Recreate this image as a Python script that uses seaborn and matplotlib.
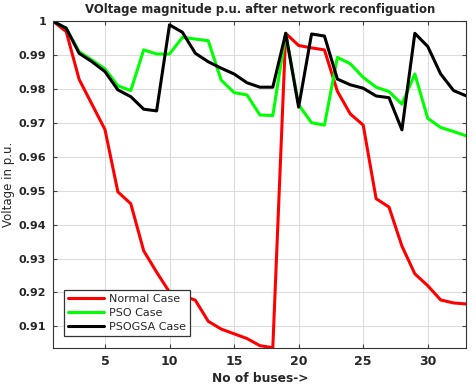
import numpy as np
import pandas as pd
import matplotlib
matplotlib.use("Agg")
import matplotlib.pyplot as plt
import seaborn as sns

# Bus voltages (p.u.) for the 33-bus system
buses = list(range(1, 34))
normal_case = [1.0000, 0.9970, 0.9829, 0.9755, 0.9681, 0.9497, 0.9462, 0.9323,
               0.9260, 0.9201, 0.9192, 0.9177, 0.9115, 0.9092, 0.9078, 0.9064,
               0.9043, 0.9037, 0.9965, 0.9929, 0.9922, 0.9916, 0.9794, 0.9727,
               0.9694, 0.9477, 0.9452, 0.9337, 0.9255, 0.9220, 0.9178, 0.9169,
               0.9166]
pso_case = [1.0000, 0.9980, 0.9911, 0.9886, 0.9860, 0.9810, 0.9796, 0.9916,
            0.9904, 0.9904, 0.9953, 0.9948, 0.9943, 0.9827, 0.9790, 0.9783,
            0.9724, 0.9722, 0.9965, 0.9754, 0.9701, 0.9694, 0.9894, 0.9875,
            0.9835, 0.9806, 0.9793, 0.9756, 0.9845, 0.9714, 0.9687, 0.9675,
            0.9662]
psogsa_case = [1.0000, 0.9980, 0.9906, 0.9881, 0.9852, 0.9798, 0.9778, 0.9741,
               0.9736, 0.9990, 0.9968, 0.9906, 0.9881, 0.9862, 0.9845, 0.9819,
               0.9806, 0.9806, 0.9965, 0.9747, 0.9963, 0.9957, 0.9830, 0.9813,
               0.9803, 0.9780, 0.9775, 0.9680, 0.9965, 0.9926, 0.9845, 0.9796,
               0.9780]
case_names = ["Normal Case", "PSO Case", "PSOGSA Case"]
case_colors = ["#ff0000", "#00ff00", "#000000"]
x_ticks = [5, 10, 15, 20, 25, 30]
y_ticks = [0.91, 0.92, 0.93, 0.94, 0.95, 0.96, 0.97, 0.98, 0.99, 1.0]
y_tick_labels = ["0.91", "0.92", "0.93", "0.94", "0.95", "0.96", "0.97", "0.98", "0.99", "1"]

df = pd.DataFrame({
    "bus": buses * 3,
    "voltage": normal_case + pso_case + psogsa_case,
    "case": np.repeat(case_names, len(buses)),
})

sns.set_style("ticks")
plt.rcParams["font.family"] = ["DejaVu Sans"]

fig = plt.figure(figsize=(4.76, 3.90), dpi=100)
ax = fig.add_axes([0.112, 0.1085, 0.868, 0.8365])

sns.lineplot(data=df, x="bus", y="voltage", hue="case", hue_order=case_names,
             palette=case_colors, linewidth=2.2, ax=ax)

ax.set_xlim(1, 33)
ax.set_ylim(0.9037, 1.0)
ax.set_xticks(x_ticks)
ax.set_xticklabels([str(t) for t in x_ticks], fontweight="bold", fontsize=9)
ax.set_yticks(y_ticks)
ax.set_yticklabels(y_tick_labels, fontweight="bold", fontsize=8)
ax.grid(True, color="#dcdcdc", linewidth=0.8)
ax.set_axisbelow(True)
ax.tick_params(direction="in", top=True, right=True, length=3, color="#444444", pad=5)
for s in ax.spines.values():
    s.set_color("#333333")
    s.set_linewidth(0.8)

ax.set_title("VOltage magnitude p.u. after network reconfiguation",
             fontweight="heavy", fontsize=8.4, pad=6)
ax.set_xlabel("No of buses->", fontweight="bold", fontsize=8.8, labelpad=3)
ax.set_ylabel("Voltage in p.u.", fontsize=8.5, labelpad=3)

leg = ax.legend(loc="lower left", bbox_to_anchor=(0.012, 0.02), fontsize=8,
                frameon=True, fancybox=False, handlelength=3.3,
                borderpad=0.35, labelspacing=0.35, handletextpad=0.4)
leg.get_frame().set_edgecolor("#333333")
leg.get_frame().set_linewidth(0.9)
leg.get_frame().set_alpha(1)

fig.savefig("out.png", dpi=100)
